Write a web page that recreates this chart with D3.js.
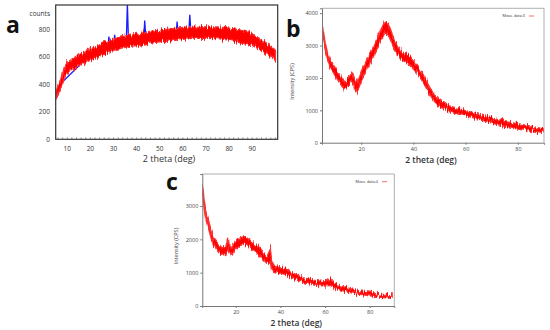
<!DOCTYPE html>
<html>
<head>
<meta charset="utf-8">
<script src="https://cdn.jsdelivr.net/npm/d3@7"></script>
<style>
  body { margin: 0; background: #fff; }
  text { font-family: "Open Sans", "Liberation Sans", sans-serif; }
</style>
</head>
<body>
<div class="svgContainer"></div>
<script>
/* ---- panel a : counts vs 2 theta (red band + blue peaks) ---- */
var aTheta = [5, 6, 7, 8, 9, 10, 12, 15, 18, 20, 23, 26, 30, 33, 36, 40, 45, 50, 55, 60, 65, 70, 75, 80, 85, 90, 95, 98, 100];
var aLow   = [300, 330, 365, 410, 455, 480, 505, 535, 560, 580, 600, 625, 650, 665, 675, 685, 700, 712, 720, 730, 740, 738, 735, 725, 705, 685, 640, 605, 575];
var aHigh  = [345, 395, 430, 480, 530, 560, 585, 615, 640, 660, 680, 705, 730, 745, 755, 765, 785, 795, 805, 815, 825, 820, 820, 810, 795, 770, 715, 680, 650];
var aPeakTheta = [5, 7, 7.5, 8, 18, 19, 20, 27.5, 28, 28.5, 30, 30.5, 31, 35.5, 36, 36.5, 43, 43.5, 44, 55, 55.5, 56, 57, 57.5, 58, 62.5, 63, 63.5, 88.5, 89, 89.5, 100];
var aPeakVal   = [310, 385, 430, 420, 585, 628, 600, 655, 750, 665, 675, 762, 680, 700, 990, 705, 725, 866, 730, 748, 810, 752, 755, 860, 758, 765, 908, 770, 715, 760, 712, 600];
var aYTicks = [0, 200, 400, 600, 800];
var aXTicks = [10, 20, 30, 40, 50, 60, 70, 80, 90];

/* ---- panel b : Meas. data:3 ---- */
var bTheta = [5, 5.5, 6, 7, 8, 10, 12, 13.5, 15, 16.5, 17.5, 18.5, 20, 22, 25, 27, 29, 30, 31, 33, 35, 38, 40, 42, 44, 46, 48, 50, 53, 56, 60, 65, 70, 75, 80, 85, 90];
var bLow   = [3580, 3250, 2970, 2600, 2350, 2080, 1820, 1650, 1740, 1930, 1700, 1580, 1900, 2270, 2720, 3080, 3380, 3380, 3220, 2830, 2590, 2440, 2280, 2090, 1830, 1530, 1280, 1130, 980, 910, 830, 730, 610, 510, 450, 385, 310];
var bHigh  = [3700, 3450, 3170, 2800, 2560, 2320, 2060, 1880, 1980, 2150, 1980, 1820, 2160, 2530, 3010, 3390, 3720, 3700, 3540, 3110, 2840, 2690, 2520, 2320, 2060, 1740, 1470, 1320, 1150, 1080, 990, 880, 760, 650, 585, 510, 420];
var bYTicks = [0, 1000, 2000, 3000, 4000];
var bXTicks = [20, 40, 60, 80];

/* ---- panel c : Meas. data:4 ---- */
var cTheta = [5, 5.5, 6, 7, 8, 9, 10, 12, 14, 15.5, 16.5, 17, 18, 20, 22, 24, 26, 28, 30, 32, 34, 35.5, 36, 37, 40, 43, 45, 50, 55, 60, 62.5, 65, 70, 75, 80, 85, 90];
var cLow   = [3500, 3180, 2830, 2530, 2280, 2030, 1830, 1660, 1530, 1550, 1700, 1620, 1530, 1720, 1820, 1860, 1770, 1650, 1570, 1420, 1280, 1300, 1180, 1040, 990, 940, 850, 710, 630, 600, 620, 520, 420, 360, 310, 265, 235];
var cHigh  = [3650, 3380, 3030, 2730, 2480, 2230, 2030, 1870, 1740, 1760, 2050, 1840, 1730, 1940, 2040, 2080, 1990, 1870, 1790, 1640, 1480, 1700, 1380, 1220, 1170, 1120, 1010, 850, 770, 720, 830, 640, 540, 460, 410, 355, 330];
var cYTicks = [0, 1000, 2000, 3000];
var cXTicks = [20, 40, 60, 80];

var svg = d3.select(".svgContainer")
  .append("svg")
    .attr("width", 550)
    .attr("height", 330);

/* vertical jitter filter so the band edges look like a noisy scan */
var defs = svg.append("defs");
var filt = defs.append("filter")
    .attr("id", "noisy")
    .attr("x", "-5%").attr("y", "-20%")
    .attr("width", "110%").attr("height", "140%");
filt.append("feTurbulence")
    .attr("type", "fractalNoise")
    .attr("baseFrequency", "1.2 0.08")
    .attr("numOctaves", 2)
    .attr("seed", 3)
    .attr("result", "turb");
filt.append("feColorMatrix")
    .attr("in", "turb")
    .attr("type", "matrix")
    .attr("values", "0 0 0 0 0.5  0 1 0 0 0  0 0 0 0 0  0 0 0 0 1")
    .attr("result", "shift");
filt.append("feDisplacementMap")
    .attr("in", "SourceGraphic")
    .attr("in2", "shift")
    .attr("scale", 9)
    .attr("xChannelSelector", "R")
    .attr("yChannelSelector", "G");

function drawBand(g, x, y, theta, low, high) {
  var rows = theta.map(function(t, i) { return {t: t, lo: low[i], hi: high[i]}; });
  var area = d3.area()
    .x(function(d) { return x(d.t); })
    .y0(function(d) { return y(d.lo); })
    .y1(function(d) { return y(d.hi); });
  g.append("path")
    .datum(rows)
    .attr("d", area)
    .attr("fill", "#ff0000")
    .attr("stroke", "#ff3030")
    .attr("stroke-width", 1.5)
    .attr("filter", "url(#noisy)");
}

/* ================= panel a ================= */
var ax = d3.scaleLinear().domain([5, 101]).range([55.7, 277.7]);
var ay = d3.scaleLinear().domain([0, 980]).range([139.3, 5]);
var ga = svg.append("g");

ga.append("clipPath").attr("id", "clipA")
  .append("rect").attr("x", 55.7).attr("y", 5).attr("width", 222).attr("height", 134.3);

var plotA = ga.append("g").attr("clip-path", "url(#clipA)");
plotA.append("path")
  .datum(aPeakTheta.map(function(t, i) { return [t, aPeakVal[i]]; }))
  .attr("d", d3.line().x(function(d) { return ax(d[0]); }).y(function(d) { return ay(d[1]); }))
  .attr("fill", "none")
  .attr("stroke", "#1a1aff")
  .attr("stroke-width", 1.3);
drawBand(plotA, ax, ay, aTheta, aLow, aHigh);

ga.append("rect")
  .attr("x", 55.7).attr("y", 5)
  .attr("width", 222).attr("height", 134.3)
  .attr("fill", "none")
  .attr("stroke", "#333")
  .attr("stroke-width", 1.2);

/* minor ticks along the bottom */
ga.selectAll(".minor")
  .data(d3.range(6, 101, 2))
  .enter().append("line")
    .attr("x1", function(d) { return ax(d); })
    .attr("x2", function(d) { return ax(d); })
    .attr("y1", 139.3).attr("y2", 137.3)
    .attr("stroke", "#555").attr("stroke-width", 0.6);

ga.selectAll(".ayl")
  .data(aYTicks)
  .enter().append("text")
    .attr("x", 50)
    .attr("y", function(d) { return ay(d) + 2.2; })
    .attr("text-anchor", "end")
    .attr("font-size", 6.5)
    .attr("fill", "#333")
    .text(function(d) { return d; });
ga.selectAll(".axl")
  .data(aXTicks)
  .enter().append("text")
    .attr("x", function(d) { return ax(d); })
    .attr("y", 150.5)
    .attr("text-anchor", "middle")
    .attr("font-size", 6.5)
    .attr("fill", "#333")
    .text(function(d) { return d; });
ga.append("text").attr("x", 50).attr("y", 16).attr("text-anchor", "end")
  .attr("font-size", 6.5).attr("fill", "#333").text("counts");
ga.append("text").attr("x", 169).attr("y", 162).attr("text-anchor", "middle")
  .attr("font-size", 9).attr("fill", "#333").text("2 theta (deg)");
ga.append("text").attr("x", 6).attr("y", 33).attr("font-size", 23)
  .attr("font-weight", "bold").attr("fill", "#111").text("a");

/* ================= panels b and c ================= */
function drawMeas(cfg) {
  var x = d3.scaleLinear().domain(cfg.xDomain).range([cfg.left, cfg.right]);
  var y = d3.scaleLinear().domain(cfg.yDomain).range([cfg.bottom, cfg.top]);
  var g = svg.append("g");

  g.append("clipPath").attr("id", cfg.id)
    .append("rect").attr("x", cfg.left).attr("y", cfg.top)
    .attr("width", cfg.right - cfg.left).attr("height", cfg.bottom - cfg.top);

  drawBand(g.append("g").attr("clip-path", "url(#" + cfg.id + ")"), x, y, cfg.theta, cfg.low, cfg.high);

  /* light top / right frame */
  g.append("path")
    .attr("d", "M" + cfg.left + "," + cfg.top + "H" + cfg.right + "V" + cfg.bottom)
    .attr("fill", "none").attr("stroke", "#999").attr("stroke-width", 0.8);

  var yAxis = d3.axisLeft(y).tickValues(cfg.yTicks).tickFormat(d3.format("d")).tickSize(2).tickPadding(2);
  var xAxis = d3.axisBottom(x).tickValues(cfg.xTicks).tickFormat(d3.format("d")).tickSize(2).tickPadding(2);
  var gy = g.append("g").attr("transform", "translate(" + cfg.left + ",0)").call(yAxis);
  var gx = g.append("g").attr("transform", "translate(0," + cfg.bottom + ")").call(xAxis);
  [gx, gy].forEach(function(s) {
    s.select(".domain").attr("stroke", "#777").attr("stroke-width", 1);
    s.selectAll(".tick line").attr("stroke", "#777");
    s.selectAll(".tick text").attr("font-size", 5.5).attr("fill", "#444")
      .style("font-family", "'Open Sans', sans-serif");
  });

  g.append("text")
    .attr("transform", "translate(" + cfg.ylabX + "," + ((cfg.top + cfg.bottom) / 2 + 6) + ") rotate(-90)")
    .attr("text-anchor", "middle")
    .attr("font-size", 5.5).attr("fill", "#444")
    .text("Intensity (CPS)");
  g.append("text")
    .attr("x", (cfg.left + cfg.right) / 2 - 2)
    .attr("y", cfg.xlabY)
    .attr("text-anchor", "middle")
    .attr("font-size", 8.5).attr("font-weight", 600).attr("fill", "#333")
    .text("2 theta (deg)");

  /* legend */
  g.append("text")
    .attr("x", cfg.legX).attr("y", cfg.top + 9)
    .attr("text-anchor", "end")
    .attr("font-size", 3.8).attr("fill", "#333")
    .text(cfg.legend);
  g.append("line")
    .attr("x1", cfg.legX + 4).attr("x2", cfg.legX + 9)
    .attr("y1", cfg.top + 7.7).attr("y2", cfg.top + 7.7)
    .attr("stroke", "#ff4040").attr("stroke-width", 0.8);

  g.append("text")
    .attr("x", cfg.tagX).attr("y", cfg.tagY)
    .attr("font-size", 23).attr("font-weight", "bold").attr("fill", "#111")
    .text(cfg.tag);
}

drawMeas({
  id: "clipB", tag: "b", tagX: 286, tagY: 36.5,
  left: 322, right: 544, top: 8.3, bottom: 142.7,
  xDomain: [5, 90], yDomain: [0, 4150],
  xTicks: bXTicks, yTicks: bYTicks,
  theta: bTheta, low: bLow, high: bHigh,
  ylabX: 294, xlabY: 163, legX: 525, legend: "Meas. data:3"
});

drawMeas({
  id: "clipC", tag: "c", tagX: 166, tagY: 190,
  left: 202.3, right: 394.3, top: 174, bottom: 306,
  xDomain: [5, 91], yDomain: [0, 3960],
  xTicks: cXTicks, yTicks: cYTicks,
  theta: cTheta, low: cLow, high: cHigh,
  ylabX: 178, xlabY: 326, legX: 378, legend: "Meas. data:4"
});
</script>
</body>
</html>
